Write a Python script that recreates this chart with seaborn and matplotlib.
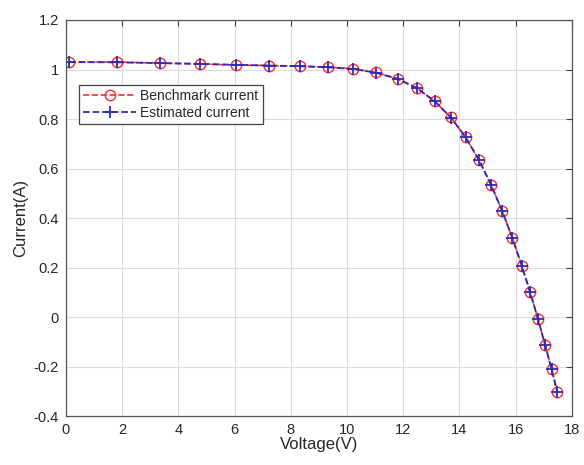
import matplotlib
matplotlib.use('Agg')
import matplotlib.pyplot as plt
import seaborn as sns

# data
voltage = [0.12, 1.81, 3.35, 4.76, 6.05, 7.24, 8.32, 9.31, 10.22, 11.04, 11.80, 12.49,
           13.12, 13.70, 14.22, 14.70, 15.13, 15.53, 15.89, 16.22, 16.52, 16.80, 17.05,
           17.28, 17.49]
benchmark_current = [1.031, 1.030, 1.026, 1.022, 1.018, 1.016, 1.014, 1.010, 1.003, 0.988,
                     0.963, 0.925, 0.872, 0.807, 0.726, 0.634, 0.534, 0.427, 0.318, 0.208,
                     0.101, -0.008, -0.111, -0.209, -0.303]
estimated_current = [1.030, 1.029, 1.026, 1.023, 1.019, 1.016, 1.013, 1.009, 1.002, 0.987,
                     0.962, 0.925, 0.872, 0.806, 0.727, 0.635, 0.534, 0.427, 0.319, 0.208,
                     0.100, -0.008, -0.111, -0.209, -0.304]

red = '#ff2a2a'
blue = '#2b2bb5'

sns.set_style('white')
plt.rcParams['font.family'] = ['Liberation Sans', 'DejaVu Sans']

fig = plt.figure(figsize=(5.84, 4.65), dpi=100)
ax = fig.add_axes([0.113, 0.105, 0.866, 0.852])

sns.lineplot(x=voltage, y=benchmark_current, ax=ax, color=red, linestyle='--',
             dashes=(6, 3.5), linewidth=1.2, marker='o', markersize=7.5,
             markerfacecolor='none', markeredgecolor=red, markeredgewidth=1.0,
             label='Benchmark current')
sns.lineplot(x=voltage, y=estimated_current, ax=ax, color=blue, linestyle='--',
             dashes=(6, 3.5), linewidth=1.3, marker='+', markersize=9,
             markeredgecolor=blue, markeredgewidth=1.3, label='Estimated current')

ax.set_xlim(0, 18)
ax.set_ylim(-0.4, 1.2)
ax.set_xticks(range(0, 19, 2))
ax.set_yticks([-0.4, -0.2, 0, 0.2, 0.4, 0.6, 0.8, 1.0, 1.2])
ax.set_yticklabels(['-0.4', '-0.2', '0', '0.2', '0.4', '0.6', '0.8', '1', '1.2'])
ax.set_xlabel('Voltage(V)', fontsize=12, color='#262626', labelpad=0)
ax.set_ylabel('Current(A)', fontsize=12, color='#262626', labelpad=4)
ax.tick_params(direction='in', length=4, width=0.8, colors='#404040',
               labelsize=10.5, labelcolor='#262626', top=True, right=True,
               labeltop=False, labelright=False, pad=5)
ax.grid(True, color='#dcdcdc', linewidth=0.8)
for sp in ax.spines.values():
    sp.set_color('#555555')
    sp.set_linewidth(0.9)

leg = ax.legend(loc='upper left', bbox_to_anchor=(0.026, 0.836), fontsize=10,
                handlelength=3.8, frameon=True, fancybox=False, framealpha=1,
                edgecolor='#444444', borderpad=0.3, labelspacing=0.2,
                handletextpad=0.3, borderaxespad=0)
leg.get_frame().set_linewidth(0.9)

fig.savefig('out.png', dpi=100)
